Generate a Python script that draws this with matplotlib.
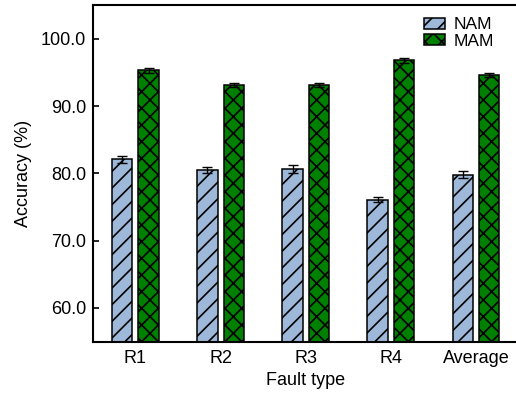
import numpy as np
import matplotlib
matplotlib.use('Agg')
from matplotlib import pyplot as plt

plt.rcParams['font.family'] = ['Liberation Sans', 'DejaVu Sans']
plt.rcParams['hatch.linewidth'] = 1.2

categories = ['R1', 'R2', 'R3', 'R4', 'Average']
nam = [82.1, 80.5, 80.6, 76.1, 79.8]
nam_err = [0.5, 0.4, 0.6, 0.4, 0.5]
mam = [95.3, 93.2, 93.1, 96.8, 94.6]
mam_err = [0.4, 0.3, 0.3, 0.4, 0.3]

x = np.arange(len(categories))
w = 0.24
off = 0.155

fig = plt.figure(figsize=(5.16, 3.94), dpi=100)
ax = fig.add_axes([0.180, 0.133, 0.825, 0.854])

err_kw = dict(ecolor='black', elinewidth=1.0, capsize=3.5, capthick=1.0)
ax.bar(x - off, nam, w, yerr=nam_err, color='#9db8d9', edgecolor='black',
       linewidth=1.1, hatch='//', label='NAM', error_kw=err_kw)
ax.bar(x + off, mam, w, yerr=mam_err, color='#008000', edgecolor='black',
       linewidth=1.1, hatch='xx', label='MAM', error_kw=err_kw)

ax.set_xlim(-0.5, 4.5)
ax.set_ylim(55, 105)
ax.set_yticks([60, 70, 80, 90, 100])
ax.set_yticklabels(['60.0', '70.0', '80.0', '90.0', '100.0'])
ax.set_xticks(x)
ax.set_xticklabels(categories)
ax.tick_params(axis='y', direction='in', length=4, width=1.2, labelsize=13, pad=5)
ax.tick_params(axis='x', length=0, labelsize=13, pad=6)
for s in ax.spines.values():
    s.set_linewidth(1.5)

ax.set_ylabel('Accuracy (%)', fontsize=13, labelpad=6)
ax.set_xlabel('Fault type', fontsize=13, labelpad=4)

ax.legend(loc='upper right', bbox_to_anchor=(0.97, 1.0), frameon=False,
          fontsize=12.5, handlelength=1.2, handleheight=0.6, handletextpad=0.5,
          labelspacing=0.1, borderaxespad=0.3)

fig.savefig('out.png', dpi=100)
